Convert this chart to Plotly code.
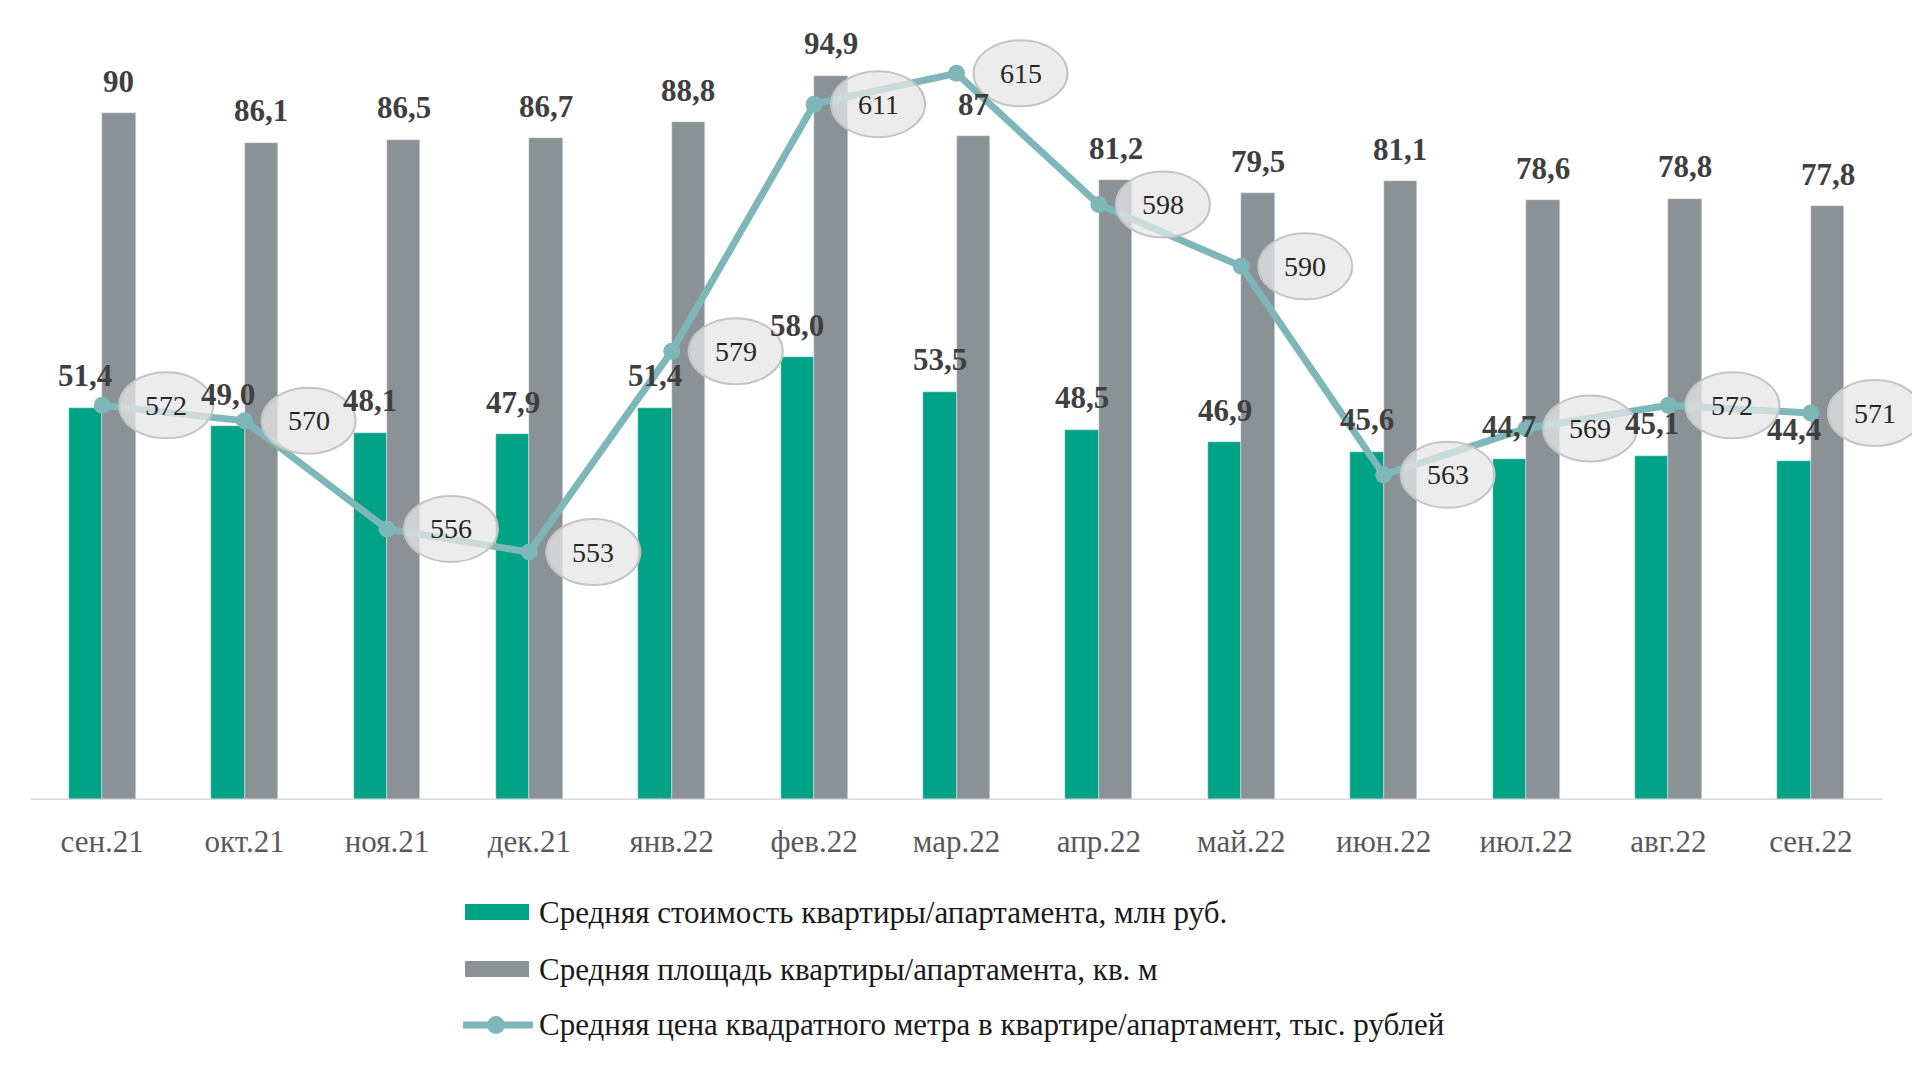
import plotly.graph_objects as go

# Данные
months = ['сен.21', 'окт.21', 'ноя.21', 'дек.21', 'янв.22', 'фев.22', 'мар.22',
          'апр.22', 'май.22', 'июн.22', 'июл.22', 'авг.22', 'сен.22']
cost = [51.4, 49.0, 48.1, 47.9, 51.4, 58.0, 53.5, 48.5, 46.9, 45.6, 44.7, 45.1, 44.4]
area = [90, 86.1, 86.5, 86.7, 88.8, 94.9, 87, 81.2, 79.5, 81.1, 78.6, 78.8, 77.8]
price = [572, 570, 556, 553, 579, 611, 615, 598, 590, 563, 569, 572, 571]

names = ['Средняя стоимость квартиры/апартамента, млн руб.',
         'Средняя площадь квартиры/апартамента, кв. м',
         'Средняя цена квадратного метра в квартире/апартамент, тыс. рублей']

GREEN = '#00A386'
GRAY = '#8A9296'
LINE = '#7DB7BA'
TXT = '#3F3F3F'
FONT = 'Liberation Serif'
BAR_W = 0.235

# отступ body в браузере (8px) - компенсируем размером фигуры
OFF = 8
W, H = 1920 - 2 * OFF, 1070 - 2 * OFF
# Ось X в пикселях окна: от 31 до 1882 (13 категорий), область построения тянем до правого края,
# чтобы последний овал не обрезался
AX_L, AX_R = 31, 1882
PL, PR, PT, PB = AX_L, 1920 - OFF, 20, 800
cat_px = (AX_R - AX_L) / len(months)
x_max = len(months) - 0.5 + (PR - AX_R) / cat_px


def px(x):
    return (x - PL) / (PR - PL)


def py(y):
    return (PB - y) / (PB - PT)


idx = list(range(len(months)))
cost_txt = [f'{v:.1f}'.replace('.', ',') for v in cost]
area_txt = [f'{v:g}'.replace('.', ',') for v in area]

fig = go.Figure()
fig.add_trace(go.Bar(x=idx, y=cost, width=BAR_W, offset=-BAR_W, marker_color=GREEN,
                     name=names[0], showlegend=False))
fig.add_trace(go.Bar(x=idx, y=area, width=BAR_W, offset=0, marker_color=GRAY,
                     name=names[1], showlegend=False))
fig.add_trace(go.Scatter(x=idx, y=price, yaxis='y2', mode='lines+markers',
                         line=dict(color=LINE, width=7), marker=dict(color=LINE, size=17),
                         name=names[2], showlegend=False))

# линия оси X
fig.add_shape(type='line', xref='x', yref='y', x0=-0.5, x1=len(months) - 0.5, y0=0, y1=0,
              line=dict(color='#D9D9D9', width=3), layer='above')

# Подписи столбцов
for i in idx:
    fig.add_annotation(x=i - BAR_W / 2, y=cost[i], xref='x', yref='y', text=cost_txt[i],
                       showarrow=False, yshift=32, font=dict(family=FONT, size=31, color=TXT, weight='bold'))
    fig.add_annotation(x=i + BAR_W / 2, y=area[i], xref='x', yref='y', text=area_txt[i],
                       showarrow=False, yshift=32, font=dict(family=FONT, size=31, color=TXT, weight='bold'))

# Подписи линии в овалах
for i in idx:
    fig.add_shape(type='circle', xref='x', yref='y2', xsizemode='pixel', ysizemode='pixel',
                  xanchor=i, yanchor=price[i], x0=64 - 47, x1=64 + 47, y0=-33, y1=33,
                  fillcolor='rgba(230,230,230,0.75)', line=dict(color='#C4C4C4', width=2),
                  layer='above')
    fig.add_annotation(x=i, y=price[i], xref='x', yref='y2', text=str(price[i]),
                       showarrow=False, xshift=64, font=dict(family=FONT, size=28, color='#262626'))

# Легенда
rows = [912, 969, 1025]
fig.add_shape(type='rect', xref='paper', yref='paper', x0=px(465), x1=px(529),
              y0=py(rows[0] + 8), y1=py(rows[0] - 8), fillcolor=GREEN, line_width=0)
fig.add_shape(type='rect', xref='paper', yref='paper', x0=px(465), x1=px(529),
              y0=py(rows[1] + 8), y1=py(rows[1] - 8), fillcolor=GRAY, line_width=0)
fig.add_shape(type='line', xref='paper', yref='paper', x0=px(463), x1=px(533),
              y0=py(rows[2]), y1=py(rows[2]), line=dict(color=LINE, width=7))
fig.add_shape(type='circle', xref='paper', yref='paper', x0=px(487), x1=px(505),
              y0=py(rows[2] + 9), y1=py(rows[2] - 9), fillcolor=LINE, line_width=0)
for r, n in zip(rows, names):
    fig.add_annotation(x=px(537), y=py(r), xref='paper', yref='paper', text=n, showarrow=False,
                       xanchor='left', yanchor='middle', font=dict(family=FONT, size=31, color='#1A1A1A'))

# Серая полоса внизу
fig.add_shape(type='rect', xref='paper', yref='paper', x0=px(OFF), x1=px(1920 - OFF),
              y0=py(1070 - OFF), y1=py(1063), fillcolor='#DADADA', line_width=0)

fig.update_layout(
    width=W, height=H,
    margin=dict(l=PL - OFF, r=1920 - OFF - PR, t=PT - OFF, b=1070 - OFF - PB),
    plot_bgcolor='white', paper_bgcolor='white',
    bargap=0, showlegend=False,
    xaxis=dict(range=[-0.5, x_max], tickvals=idx, ticktext=months, showline=False,
               showgrid=False, zeroline=False, ticks='',
               tickfont=dict(family=FONT, size=31, color='#595959'), ticklabelstandoff=20),
    yaxis=dict(range=[0, 102.2], visible=False),
    yaxis2=dict(range=[520.9, 621.9], overlaying='y', visible=False),
)

fig.write_html('out.html')
